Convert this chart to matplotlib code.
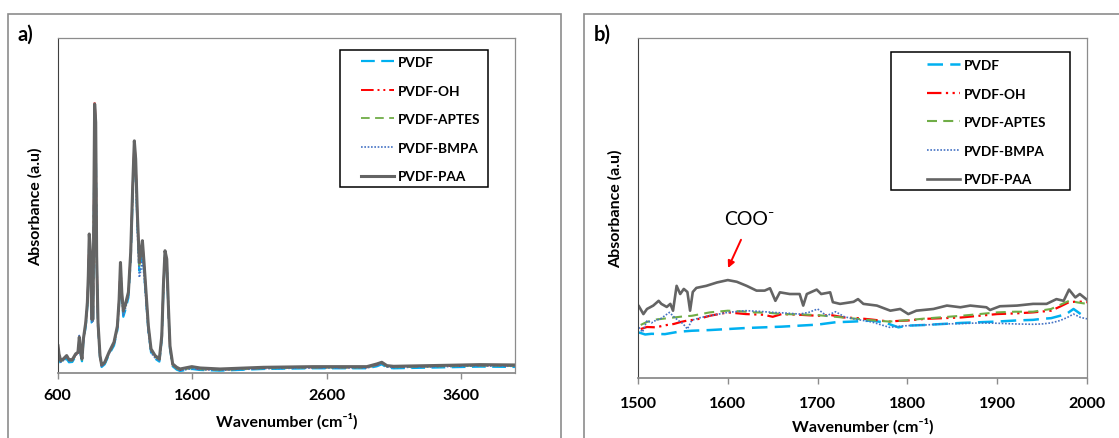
"""FTIR spectra of PVDF membranes: full range (a) and 1500-2000 cm-1 zoom (b)."""

import matplotlib

matplotlib.use("Agg")
import matplotlib.pyplot as plt  # noqa: E402
from matplotlib.patches import Rectangle  # noqa: E402

FONT = ["Lato", "DejaVu Sans"]
plt.rcParams.update({"font.family": FONT, "font.weight": "bold"})

LABELS = ["PVDF", "PVDF-OH", "PVDF-APTES", "PVDF-BMPA", "PVDF-PAA"]

# --- panel a: full spectrum, shared wavenumber grid ---
wn_a = [604, 611, 624, 643, 668, 685, 710, 735, 752, 762, 772, 782, 792, 810, 822, 829,
        836, 847, 854, 864, 871, 876, 884, 891, 901, 916, 928, 951, 983, 1020, 1045, 1058,
        1068, 1078, 1089, 1102, 1127, 1144, 1159, 1171, 1181, 1193, 1208, 1219, 1231, 1243,
        1258, 1275, 1295, 1325, 1357, 1375, 1387, 1399, 1412, 1424, 1436, 1456, 1486, 1511,
        1598, 1660, 1808, 2130, 2502, 2899, 2973, 3010, 3048, 3097, 3494, 3741, 4000]
pvdf_a = [0.070, 0.045, 0.028, 0.033, 0.043, 0.032, 0.033, 0.050, 0.055, 0.095, 0.055, 0.035,
          0.092, 0.140, 0.200, 0.275, 0.395, 0.330, 0.150, 0.145, 0.520, 0.785, 0.730, 0.335,
          0.140, 0.045, 0.018, 0.026, 0.055, 0.082, 0.128, 0.205, 0.305, 0.220, 0.168, 0.185,
          0.225, 0.340, 0.530, 0.665, 0.615, 0.455, 0.305, 0.330, 0.365, 0.305, 0.222, 0.128,
          0.062, 0.043, 0.034, 0.100, 0.248, 0.352, 0.328, 0.190, 0.072, 0.020, 0.010, 0.006,
          0.012, 0.009, 0.007, 0.012, 0.014, 0.014, 0.020, 0.026, 0.016, 0.014, 0.017, 0.019,
          0.018]
oh_a = [0.078, 0.054, 0.035, 0.040, 0.050, 0.038, 0.038, 0.055, 0.060, 0.104, 0.060, 0.040,
        0.098, 0.150, 0.210, 0.288, 0.410, 0.345, 0.160, 0.158, 0.550, 0.812, 0.750, 0.348,
        0.150, 0.050, 0.022, 0.030, 0.060, 0.090, 0.138, 0.218, 0.328, 0.238, 0.184, 0.198,
        0.238, 0.356, 0.555, 0.690, 0.636, 0.476, 0.326, 0.355, 0.390, 0.326, 0.238, 0.138,
        0.070, 0.050, 0.040, 0.108, 0.258, 0.362, 0.338, 0.198, 0.078, 0.024, 0.014, 0.009,
        0.016, 0.012, 0.010, 0.015, 0.017, 0.017, 0.025, 0.030, 0.020, 0.018, 0.021, 0.023,
        0.022]
aptes_a = [0.076, 0.052, 0.034, 0.039, 0.049, 0.037, 0.037, 0.054, 0.059, 0.102, 0.059, 0.039,
           0.097, 0.147, 0.207, 0.284, 0.405, 0.342, 0.158, 0.155, 0.540, 0.795, 0.742, 0.344,
           0.147, 0.049, 0.021, 0.029, 0.058, 0.088, 0.135, 0.214, 0.322, 0.233, 0.180, 0.195,
           0.235, 0.352, 0.548, 0.684, 0.630, 0.470, 0.320, 0.350, 0.385, 0.321, 0.234, 0.136,
           0.068, 0.048, 0.039, 0.106, 0.255, 0.360, 0.336, 0.196, 0.076, 0.023, 0.013, 0.008,
           0.015, 0.011, 0.009, 0.014, 0.016, 0.016, 0.024, 0.029, 0.019, 0.017, 0.020, 0.022,
           0.021]
bmpa_a = [0.074, 0.050, 0.032, 0.037, 0.047, 0.035, 0.036, 0.053, 0.058, 0.112, 0.057, 0.038,
          0.095, 0.144, 0.204, 0.280, 0.400, 0.336, 0.154, 0.150, 0.530, 0.790, 0.735, 0.338,
          0.144, 0.047, 0.020, 0.028, 0.057, 0.085, 0.130, 0.208, 0.312, 0.225, 0.172, 0.188,
          0.228, 0.344, 0.535, 0.668, 0.600, 0.430, 0.285, 0.305, 0.340, 0.290, 0.212, 0.122,
          0.060, 0.045, 0.036, 0.102, 0.250, 0.350, 0.325, 0.188, 0.072, 0.021, 0.012, 0.007,
          0.013, 0.010, 0.008, 0.013, 0.015, 0.015, 0.022, 0.027, 0.018, 0.016, 0.019, 0.021,
          0.020]
paa_a = [0.081, 0.057, 0.037, 0.042, 0.052, 0.040, 0.040, 0.057, 0.062, 0.107, 0.062, 0.042,
         0.101, 0.151, 0.211, 0.290, 0.415, 0.350, 0.161, 0.161, 0.549, 0.803, 0.748, 0.350,
         0.151, 0.052, 0.024, 0.032, 0.062, 0.092, 0.140, 0.220, 0.330, 0.240, 0.186, 0.201,
         0.241, 0.360, 0.559, 0.693, 0.639, 0.480, 0.330, 0.360, 0.395, 0.330, 0.241, 0.141,
         0.072, 0.052, 0.042, 0.111, 0.261, 0.365, 0.340, 0.201, 0.081, 0.027, 0.017, 0.012,
         0.019, 0.015, 0.012, 0.017, 0.019, 0.019, 0.027, 0.032, 0.022, 0.020, 0.023, 0.025,
         0.024]

# --- panel b: 1500-2000 cm-1 ---
wn_pvdf_b = [1501, 1508, 1515, 1530, 1545, 1560, 1580, 1600, 1620, 1640, 1660, 1680, 1700,
             1720, 1740, 1760, 1775, 1790, 1800, 1820, 1840, 1860, 1880, 1900, 1920, 1940,
             1950, 1960, 1970, 1978, 1985, 1993, 2000]
pvdf_b = [0.134, 0.128, 0.130, 0.129, 0.136, 0.139, 0.141, 0.144, 0.147, 0.149, 0.151, 0.154,
          0.157, 0.164, 0.166, 0.169, 0.163, 0.149, 0.154, 0.156, 0.159, 0.162, 0.164, 0.166,
          0.169, 0.171, 0.174, 0.176, 0.183, 0.190, 0.203, 0.188, 0.193]
wn_oh_b = [1503, 1510, 1520, 1530, 1540, 1548, 1555, 1565, 1580, 1600, 1620, 1640, 1650, 1660,
           1680, 1700, 1715, 1730, 1745, 1760, 1780, 1790, 1800, 1820, 1840, 1860, 1880, 1900,
           1920, 1940, 1960, 1970, 1980, 1990, 2000]
oh_b = [0.144, 0.150, 0.149, 0.155, 0.159, 0.165, 0.169, 0.172, 0.183, 0.193, 0.188, 0.186,
        0.180, 0.188, 0.186, 0.183, 0.185, 0.178, 0.176, 0.172, 0.166, 0.168, 0.169, 0.174,
        0.176, 0.178, 0.183, 0.188, 0.190, 0.193, 0.198, 0.210, 0.223, 0.225, 0.223]
wn_aptes_b = [1503, 1510, 1520, 1530, 1540, 1550, 1560, 1580, 1600, 1615, 1630, 1645, 1660,
              1680, 1700, 1720, 1740, 1760, 1780, 1800, 1820, 1840, 1860, 1880, 1900, 1920,
              1940, 1960, 1970, 1980, 1990, 2000]
aptes_b = [0.156, 0.165, 0.172, 0.175, 0.178, 0.181, 0.183, 0.193, 0.198, 0.196, 0.193, 0.192,
           0.188, 0.187, 0.185, 0.180, 0.175, 0.170, 0.166, 0.170, 0.175, 0.179, 0.183, 0.188,
           0.193, 0.195, 0.195, 0.203, 0.215, 0.227, 0.222, 0.218]
wn_bmpa_b = [1501, 1505, 1510, 1515, 1520, 1525, 1535, 1540, 1545, 1550, 1555, 1560, 1570,
             1580, 1600, 1620, 1635, 1650, 1665, 1680, 1690, 1700, 1710, 1720, 1730, 1740,
             1760, 1780, 1790, 1800, 1820, 1840, 1860, 1880, 1900, 1920, 1940, 1950, 1960,
             1970, 1978, 1985, 1993, 2000]
bmpa_b = [0.149, 0.135, 0.169, 0.162, 0.170, 0.174, 0.193, 0.180, 0.169, 0.160, 0.144, 0.170,
          0.178, 0.183, 0.193, 0.198, 0.196, 0.193, 0.191, 0.188, 0.193, 0.203, 0.183, 0.195,
          0.180, 0.174, 0.165, 0.149, 0.152, 0.154, 0.156, 0.159, 0.160, 0.162, 0.161, 0.159,
          0.158, 0.159, 0.162, 0.169, 0.178, 0.188, 0.178, 0.174]
wn_paa_b = [1501, 1506, 1510, 1517, 1523, 1526, 1532, 1536, 1539, 1543, 1547, 1551, 1555,
            1558, 1561, 1565, 1576, 1588, 1600, 1610, 1621, 1632, 1641, 1647, 1653, 1658,
            1669, 1680, 1684, 1688, 1699, 1704, 1714, 1717, 1725, 1740, 1745, 1751, 1766,
            1781, 1792, 1801, 1810, 1829, 1844, 1859, 1870, 1888, 1892, 1903, 1922, 1940,
            1955, 1966, 1974, 1980, 1987, 1992, 2000]
paa_b = [0.211, 0.188, 0.203, 0.213, 0.227, 0.218, 0.209, 0.218, 0.198, 0.271, 0.247, 0.262,
         0.253, 0.198, 0.253, 0.265, 0.271, 0.281, 0.288, 0.283, 0.271, 0.257, 0.257, 0.264,
         0.227, 0.252, 0.247, 0.247, 0.213, 0.247, 0.260, 0.247, 0.252, 0.223, 0.218, 0.224,
         0.232, 0.218, 0.213, 0.198, 0.203, 0.188, 0.198, 0.203, 0.213, 0.208, 0.213, 0.208,
         0.200, 0.211, 0.213, 0.218, 0.218, 0.232, 0.227, 0.260, 0.237, 0.247, 0.230]

COLORS = ["#00B0F0", "#FF0000", "#70AD47", "#4472C4", "#646464"]
STYLES = [(0, (6.2, 2.9)), (0, (6.5, 2, 1, 2, 1, 2)), (0, (4.8, 3)), (0, (1, 1)), "-"]

W, H = 1119, 439
fig = plt.figure(figsize=(W / 100, H / 100), dpi=100)


def frac_box(x0, y0, x1, y1):
    """pixel box (top-left origin) -> figure fraction rect."""
    return [x0 / W, 1 - y1 / H, (x1 - x0) / W, (y1 - y0) / H]


# outer panel frames
for x0, x1 in [(8, 561), (584, 1130)]:
    fig.patches.append(Rectangle((x0 / W, -0.1), (x1 - x0) / W, 1 - 15 / H + 0.1,
                                 transform=fig.transFigure, fill=False,
                                 edgecolor="#8c8c8c", linewidth=1.2))

ax1 = fig.add_axes(frac_box(57.5, 39, 515, 374))
ax2 = fig.add_axes(frac_box(638, 39, 1087, 379))


def style_axes(ax, pad, labelpad):
    for side in ("top", "right"):
        ax.spines[side].set_color("#8c8c8c")
        ax.spines[side].set_linewidth(0.9)
    ax.spines["left"].set_color("#404040")
    ax.spines["bottom"].set_color("#8c8c8c")
    ax.spines["bottom"].set_linewidth(1.3)
    ax.set_yticks([])
    ax.tick_params(axis="x", direction="out", length=4, width=1, color="#8c8c8c",
                   labelsize=11.5, pad=pad)
    ax.set_ylabel("Absorbance (a.u)", fontsize=11.5, fontweight="bold", labelpad=11)
    ax.set_xlabel("Wavenumber (cm⁻¹)", fontsize=11.5, fontweight="bold", labelpad=labelpad)


def add_legend(ax, handles, box, hx, ty):
    """legend text/handles without frame + a separate frame rectangle (pixel coords)."""
    x0, y0, x1, y1 = box
    inv = ax.transAxes.inverted()
    bx, by = inv.transform((x0, H - y0))
    ex, ey = inv.transform((x1, H - y1))
    ax.add_patch(Rectangle((bx, ey), ex - bx, by - ey, transform=ax.transAxes, fill=False,
                           edgecolor="black", linewidth=1.1, zorder=5))
    ax.add_patch(Rectangle((bx, ey), ex - bx, by - ey, transform=ax.transAxes,
                           facecolor="white", edgecolor="none", zorder=4))
    ax_x, ax_y = inv.transform((hx, H - ty))
    leg = ax.legend(handles, LABELS, loc="upper left", bbox_to_anchor=(ax_x, ax_y),
                    frameon=False, borderpad=0, borderaxespad=0, handlelength=2.4,
                    handletextpad=0.3, labelspacing=1.22, prop={"size": 9.8, "weight": "bold"})
    leg.set_zorder(6)


# panel a
series_a = [pvdf_a, oh_a, aptes_a, bmpa_a, paa_a]
widths_a = [1.6, 1.4, 1.3, 1.2, 2.2]
lines_a = []
for ys, c, ls, lw in zip(series_a, COLORS, STYLES, widths_a):
    (ln,) = ax1.plot(wn_a, ys, color=c, linestyle=ls, linewidth=lw)
    lines_a.append(ln)
ax1.set_xlim(600, 4000)
ax1.set_ylim(0, 1.0)
ax1.set_xticks([600, 1600, 2600, 3600])
style_axes(ax1, pad=7, labelpad=7)
add_legend(ax1, lines_a, (340, 51, 488, 188), 361, 57)

# panel b
series_b = [(wn_pvdf_b, pvdf_b), (wn_oh_b, oh_b), (wn_aptes_b, aptes_b),
            (wn_bmpa_b, bmpa_b), (wn_paa_b, paa_b)]
widths_b = [1.8, 1.6, 1.5, 1.2, 1.9]
lines_b = []
for (xs, ys), c, ls, lw in zip(series_b, COLORS, STYLES, widths_b):
    (ln,) = ax2.plot(xs, ys, color=c, linestyle=ls, linewidth=lw)
    lines_b.append(ln)
ax2.set_xlim(1500, 2000)
ax2.set_ylim(0, 1.0)
ax2.set_xticks([1500, 1600, 1700, 1800, 1900, 2000])
style_axes(ax2, pad=9, labelpad=5)
add_legend(ax2, lines_b, (891, 53, 1070, 191), 927, 60)

ax2.annotate("", xy=(1599, 0.316), xytext=(1616, 0.414),
             arrowprops=dict(arrowstyle="-|>", color="#FF0000", lw=1.4, mutation_scale=10))
ax2.text(1624, 0.468, "COO⁻", fontsize=14, fontweight="normal", ha="center", va="center",
         family=FONT)

fig.text(18 / W, 1 - 35 / H, "a)", fontsize=14.5, fontweight="bold", va="center")
fig.text(594 / W, 1 - 35 / H, "b)", fontsize=14.5, fontweight="bold", va="center")

fig.savefig("out.png", dpi=100)
